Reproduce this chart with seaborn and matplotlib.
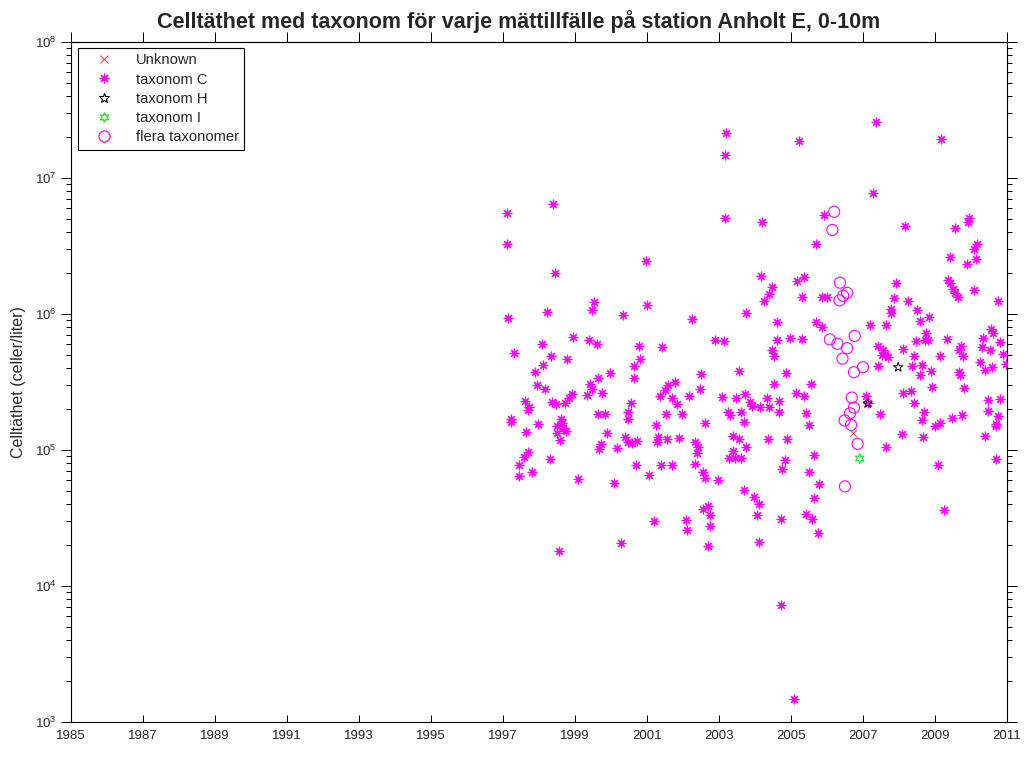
import numpy as np
import matplotlib
matplotlib.use("Agg")
import matplotlib.pyplot as plt
from matplotlib.lines import Line2D
from matplotlib.ticker import LogLocator, NullFormatter, NullLocator
import seaborn as sns

# ---- data: sampling date (decimal year) and cell density (cells/liter) ----
c_year = [
    1997.10, 1998.38, 1997.10, 1998.44, 2000.96, 1997.13, 1998.23, 1999.53, 1999.48, 2000.34,
    2000.99, 1997.31, 1998.09, 1998.94, 1999.40, 1999.62, 2000.78, 2001.41, 1998.33, 1998.78,
    1998.10, 1997.89, 2000.80, 2000.63, 1999.98, 1999.63, 2000.63, 1997.94, 1998.17, 1999.42,
    1999.46, 1999.76, 1999.34, 1998.93, 1998.83, 1997.61, 1997.73, 1998.35, 1998.47, 1998.72,
    2000.56, 2000.48, 1999.65, 1999.83, 2001.52, 2001.58, 2001.50, 2001.36, 1997.22, 1998.60,
    1997.70, 2000.48, 1997.22, 1997.98, 1997.64, 1998.63, 1998.49, 1998.68, 1998.75, 1998.49,
    1998.58, 1999.90, 2000.39, 2000.48, 2000.71, 2000.58, 2001.25, 2001.30, 2001.27, 2001.56,
    1999.72, 1999.67, 2000.16, 1997.70, 1997.59, 1998.31, 1997.45, 1997.81, 1997.44, 1999.09,
    2000.08, 2000.69, 2001.38, 2001.06, 2001.19, 2000.27, 1998.55, 2003.19, 2003.17, 2005.23,
    2003.17, 2004.19, 2005.91, 2005.69, 2004.18, 2004.46, 2004.38, 2004.25, 2005.17, 2005.35,
    2005.30, 2005.85, 2006.00, 2003.76, 2002.25, 2004.62, 2005.69, 2005.85, 2002.89, 2003.15,
    2004.62, 2004.97, 2005.30, 2004.46, 2004.54, 2003.56, 2004.86, 2002.49, 2001.78, 2001.69,
    2001.83, 2004.53, 2005.56, 2002.47, 2002.17, 2003.09, 2003.46, 2003.72, 2004.33, 2005.14,
    2005.37, 2004.68, 2003.86, 2003.93, 2004.14, 2004.40, 2003.26, 2003.31, 2003.61, 2004.68,
    2005.42, 2001.98, 2002.61, 2003.69, 2005.50, 2001.89, 2002.33, 2002.41, 2002.40, 2003.40,
    2003.56, 2003.74, 2003.38, 2003.29, 2003.44, 2003.62, 2004.35, 2004.89, 2005.65, 2004.83,
    2004.74, 2005.50, 2001.69, 2002.33, 2002.55, 2002.61, 2002.98, 2005.78, 2003.69, 2003.96,
    2004.12, 2005.63, 2002.56, 2002.69, 2002.75, 2002.08, 2002.12, 2002.76, 2004.06, 2004.72,
    2005.42, 2005.58, 2005.74, 2002.70, 2004.12, 2004.73, 2005.09, 2007.35, 2009.17, 2007.29,
    2008.18, 2009.56, 2009.95, 2009.91, 2010.16, 2010.08, 2009.42, 2009.88, 2010.15, 2009.35,
    2009.42, 2009.51, 2009.56, 2009.63, 2010.09, 2010.75, 2007.91, 2007.87, 2008.24, 2007.77,
    2007.77, 2008.49, 2008.83, 2008.58, 2007.19, 2007.64, 2008.74, 2008.72, 2008.81, 2008.47,
    2009.33, 2010.56, 2010.60, 2010.34, 2010.81, 2007.43, 2007.55, 2007.61, 2007.70, 2007.52,
    2008.12, 2008.41, 2009.72, 2009.67, 2009.79, 2010.30, 2010.53, 2010.90, 2009.13, 2010.26,
    2007.43, 2008.35, 2008.63, 2008.58, 2008.88, 2009.67, 2009.69, 2010.39, 2010.59, 2010.97,
    2008.91, 2009.81, 2008.10, 2008.33, 2008.42, 2007.08, 2007.13, 2007.47, 2008.70, 2010.46,
    2010.81, 2010.46, 2010.74, 2009.46, 2009.74, 2008.65, 2009.00, 2009.14, 2010.69, 2010.70,
    2008.08, 2008.68, 2010.39, 2007.64, 2009.09, 2010.69, 2009.26,
]
c_value = [
    5.56e6, 6.44e6, 3.27e6, 1.99e6, 2.44e6, 9.4e5, 1.04e6, 1.22e6, 1.07e6, 9.8e5,
    1.16e6, 5.2e5, 6.05e5, 6.8e5, 6.4e5, 6.0e5, 5.8e5, 5.75e5, 4.9e5, 4.7e5,
    4.2e5, 3.75e5, 4.67e5, 4.17e5, 3.7e5, 3.38e5, 3.4e5, 3.02e5, 2.8e5, 3.04e5,
    2.82e5, 2.62e5, 2.54e5, 2.58e5, 2.43e5, 2.29e5, 2.07e5, 2.25e5, 2.18e5, 2.23e5,
    2.23e5, 1.91e5, 1.83e5, 1.83e5, 1.83e5, 3.0e5, 2.76e5, 2.5e5, 1.69e5, 1.69e5,
    1.97e5, 1.68e5, 1.61e5, 1.55e5, 1.36e5, 1.57e5, 1.5e5, 1.45e5, 1.39e5, 1.34e5,
    1.19e5, 1.33e5, 1.25e5, 1.15e5, 1.17e5, 1.12e5, 1.53e5, 1.25e5, 1.15e5, 1.2e5,
    1.11e5, 1.02e5, 1.03e5, 9.6e4, 8.9e4, 8.6e4, 7.7e4, 6.9e4, 6.4e4, 6.1e4,
    5.7e4, 7.8e4, 7.8e4, 6.5e4, 3.0e4, 2.08e4, 1.82e4, 2.13e7, 1.47e7, 1.88e7,
    5.06e6, 4.77e6, 5.32e6, 3.27e6, 1.91e6, 1.59e6, 1.40e6, 1.25e6, 1.76e6, 1.88e6,
    1.34e6, 1.33e6, 1.33e6, 1.02e6, 9.2e5, 8.7e5, 8.8e5, 8.0e5, 6.4e5, 6.3e5,
    6.4e5, 6.7e5, 6.5e5, 5.4e5, 4.9e5, 3.8e5, 3.66e5, 3.62e5, 3.15e5, 2.4e5,
    2.17e5, 3.04e5, 3.07e5, 2.82e5, 2.5e5, 2.47e5, 2.4e5, 2.58e5, 2.43e5, 2.61e5,
    2.5e5, 2.3e5, 2.26e5, 2.11e5, 2.06e5, 2.06e5, 1.91e5, 1.81e5, 1.91e5, 1.91e5,
    1.86e5, 1.84e5, 1.59e5, 1.61e5, 1.53e5, 1.23e5, 1.15e5, 1.06e5, 9.5e4, 1.27e5,
    1.21e5, 1.05e5, 9.9e4, 8.8e4, 8.8e4, 8.8e4, 1.2e5, 1.2e5, 9.2e4, 8.5e4,
    7.2e4, 6.9e4, 7.7e4, 7.9e4, 6.9e4, 6.2e4, 6.05e4, 5.6e4, 5.1e4, 4.5e4,
    4.0e4, 4.4e4, 3.7e4, 3.9e4, 3.3e4, 3.05e4, 2.6e4, 2.76e4, 3.3e4, 3.1e4,
    3.4e4, 3.1e4, 2.45e4, 1.97e4, 2.1e4, 7.2e3, 1.47e3, 2.57e7, 1.93e7, 7.8e6,
    4.4e6, 4.27e6, 5.06e6, 4.72e6, 3.27e6, 3.0e6, 2.64e6, 2.32e6, 2.52e6, 1.78e6,
    1.70e6, 1.52e6, 1.43e6, 1.33e6, 1.5e6, 1.25e6, 1.70e6, 1.32e6, 1.24e6, 1.08e6,
    1.01e6, 1.07e6, 9.5e5, 8.9e5, 8.3e5, 8.3e5, 7.3e5, 6.4e5, 6.4e5, 6.3e5,
    6.5e5, 7.7e5, 7.2e5, 6.7e5, 6.25e5, 5.85e5, 5.4e5, 5.1e5, 4.85e5, 5.0e5,
    5.5e5, 4.9e5, 5.8e5, 5.4e5, 4.9e5, 5.7e5, 5.4e5, 5.1e5, 4.9e5, 4.44e5,
    4.15e5, 4.15e5, 4.2e5, 3.54e5, 3.83e5, 3.77e5, 3.56e5, 3.87e5, 4.06e5, 4.29e5,
    2.89e5, 2.84e5, 2.61e5, 2.73e5, 2.23e5, 2.5e5, 2.2e5, 1.83e5, 1.91e5, 2.33e5,
    2.37e5, 1.95e5, 1.78e5, 1.71e5, 1.81e5, 1.66e5, 1.5e5, 1.57e5, 1.55e5, 1.5e5,
    1.3e5, 1.24e5, 1.27e5, 1.06e5, 7.7e4, 8.6e4, 3.6e4,
]

unknown_year = [2006.71]
unknown_value = [1.34e5]

h_year = [2007.13, 2007.98]
h_value = [2.2e5, 4.06e5]

i_year = [2006.91]
i_value = [8.65e4]

flera_year = [
    2006.20, 2006.15, 2006.36, 2006.56, 2006.45, 2006.35, 2006.08, 2006.29, 2006.77, 2006.56,
    2006.43, 2007.00, 2006.75, 2006.69, 2006.75, 2006.64, 2006.49, 2006.67, 2006.85, 2006.50,
]
flera_value = [
    5.65e6, 4.15e6, 1.70e6, 1.43e6, 1.36e6, 1.26e6, 6.5e5, 6.05e5, 6.9e5, 5.6e5,
    4.7e5, 4.06e5, 3.73e5, 2.43e5, 2.05e5, 1.86e5, 1.65e5, 1.53e5, 1.11e5, 5.4e4,
]

year_ticks = list(range(1985, 2012, 2))
legend_labels = ["Unknown", "taxonom C", "taxonom H", "taxonom I", "flera taxonomer"]

# ---- styling ----
sns.set_style("ticks")
plt.rcParams["font.family"] = ["Liberation Sans", "DejaVu Sans"]

MAGENTA = "#ff00ff"
RED = "#ff4a4a"
GREEN = "#33e033"
asterisk = (8, 2, 0)
hexagram = (6, 1, 0)

fig = plt.figure(figsize=(10.27, 7.58), dpi=100)
ax = fig.add_axes([0.0691, 0.0475, 0.9114, 0.8971])

sns.scatterplot(x=unknown_year, y=unknown_value, marker="x", color=RED,
                s=26, linewidth=0.7, ax=ax, legend=False, zorder=3)
sns.scatterplot(x=c_year, y=c_value, marker=asterisk, color=MAGENTA,
                s=40, linewidth=0.85, ax=ax, legend=False, zorder=3)
sns.scatterplot(x=h_year, y=h_value, marker="*", facecolors="none", edgecolor="black",
                color="black", s=50, linewidth=0.7, ax=ax, legend=False, zorder=4)
sns.scatterplot(x=i_year, y=i_value, marker=hexagram, facecolors="none", edgecolor=GREEN,
                color=GREEN, s=50, linewidth=0.9, ax=ax, legend=False, zorder=4)
sns.scatterplot(x=flera_year, y=flera_value, marker="o", facecolors="none", edgecolor=MAGENTA,
                color=MAGENTA, s=64, linewidth=0.8, ax=ax, legend=False, zorder=4)

ax.set_yscale("log")
ax.set_ylim(1e3, 1e8)
ax.set_xlim(1985, 2011)
ax.set_xticks(year_ticks)
ax.set_xticklabels([str(y) for y in year_ticks])
ax.xaxis.set_minor_locator(NullLocator())
ax.yaxis.set_major_locator(LogLocator(base=10, numticks=10))
ax.yaxis.set_minor_locator(LogLocator(base=10, subs=np.arange(2, 10), numticks=20))
ax.yaxis.set_minor_formatter(NullFormatter())

ax.tick_params(axis="y", which="both", direction="out", left=True, right=True,
               color="black", labelsize=9.5, width=0.7)
ax.tick_params(axis="y", which="major", length=7)
ax.tick_params(axis="y", which="minor", length=3.5)
ax.tick_params(axis="x", which="major", direction="in", length=5, bottom=True, top=False,
               color="black", labelsize=9.5, width=0.7, pad=6)

top = ax.secondary_xaxis("top")
top.set_xticks(year_ticks)
top.tick_params(direction="out", length=7, width=0.7, color="black", labeltop=False)
top.spines["top"].set_linewidth(0.8)

for sp in ax.spines.values():
    sp.set_color("black")
    sp.set_linewidth(0.8)

ax.set_title("Celltäthet med taxonom för varje mättillfälle på station Anholt E, 0-10m",
             fontsize=15.5, fontweight="bold", pad=10, x=0.478)
ax.set_ylabel("Celltäthet (celler/liter)", fontsize=11.5, labelpad=6)

handles = [
    Line2D([], [], linestyle="none", marker="x", color=RED, markersize=6, markeredgewidth=0.8),
    Line2D([], [], linestyle="none", marker=asterisk, color=MAGENTA, markersize=7, markeredgewidth=0.9),
    Line2D([], [], linestyle="none", marker="*", markerfacecolor="none", markeredgecolor="black",
           markersize=7, markeredgewidth=0.8),
    Line2D([], [], linestyle="none", marker=hexagram, markerfacecolor="none", markeredgecolor=GREEN,
           markersize=7, markeredgewidth=1.0),
    Line2D([], [], linestyle="none", marker="o", markerfacecolor="none", markeredgecolor=MAGENTA,
           markersize=8, markeredgewidth=0.9),
]
leg = ax.legend(handles=handles, labels=legend_labels, loc="upper left",
                bbox_to_anchor=(0.0075, 0.991), borderaxespad=0, frameon=True, fancybox=False,
                edgecolor="black", framealpha=1, fontsize=10.6, handlelength=2.8,
                handletextpad=0.8, borderpad=0.35, labelspacing=0.36)
leg.get_frame().set_linewidth(0.8)

fig.savefig("out.png", dpi=100, facecolor="white")
